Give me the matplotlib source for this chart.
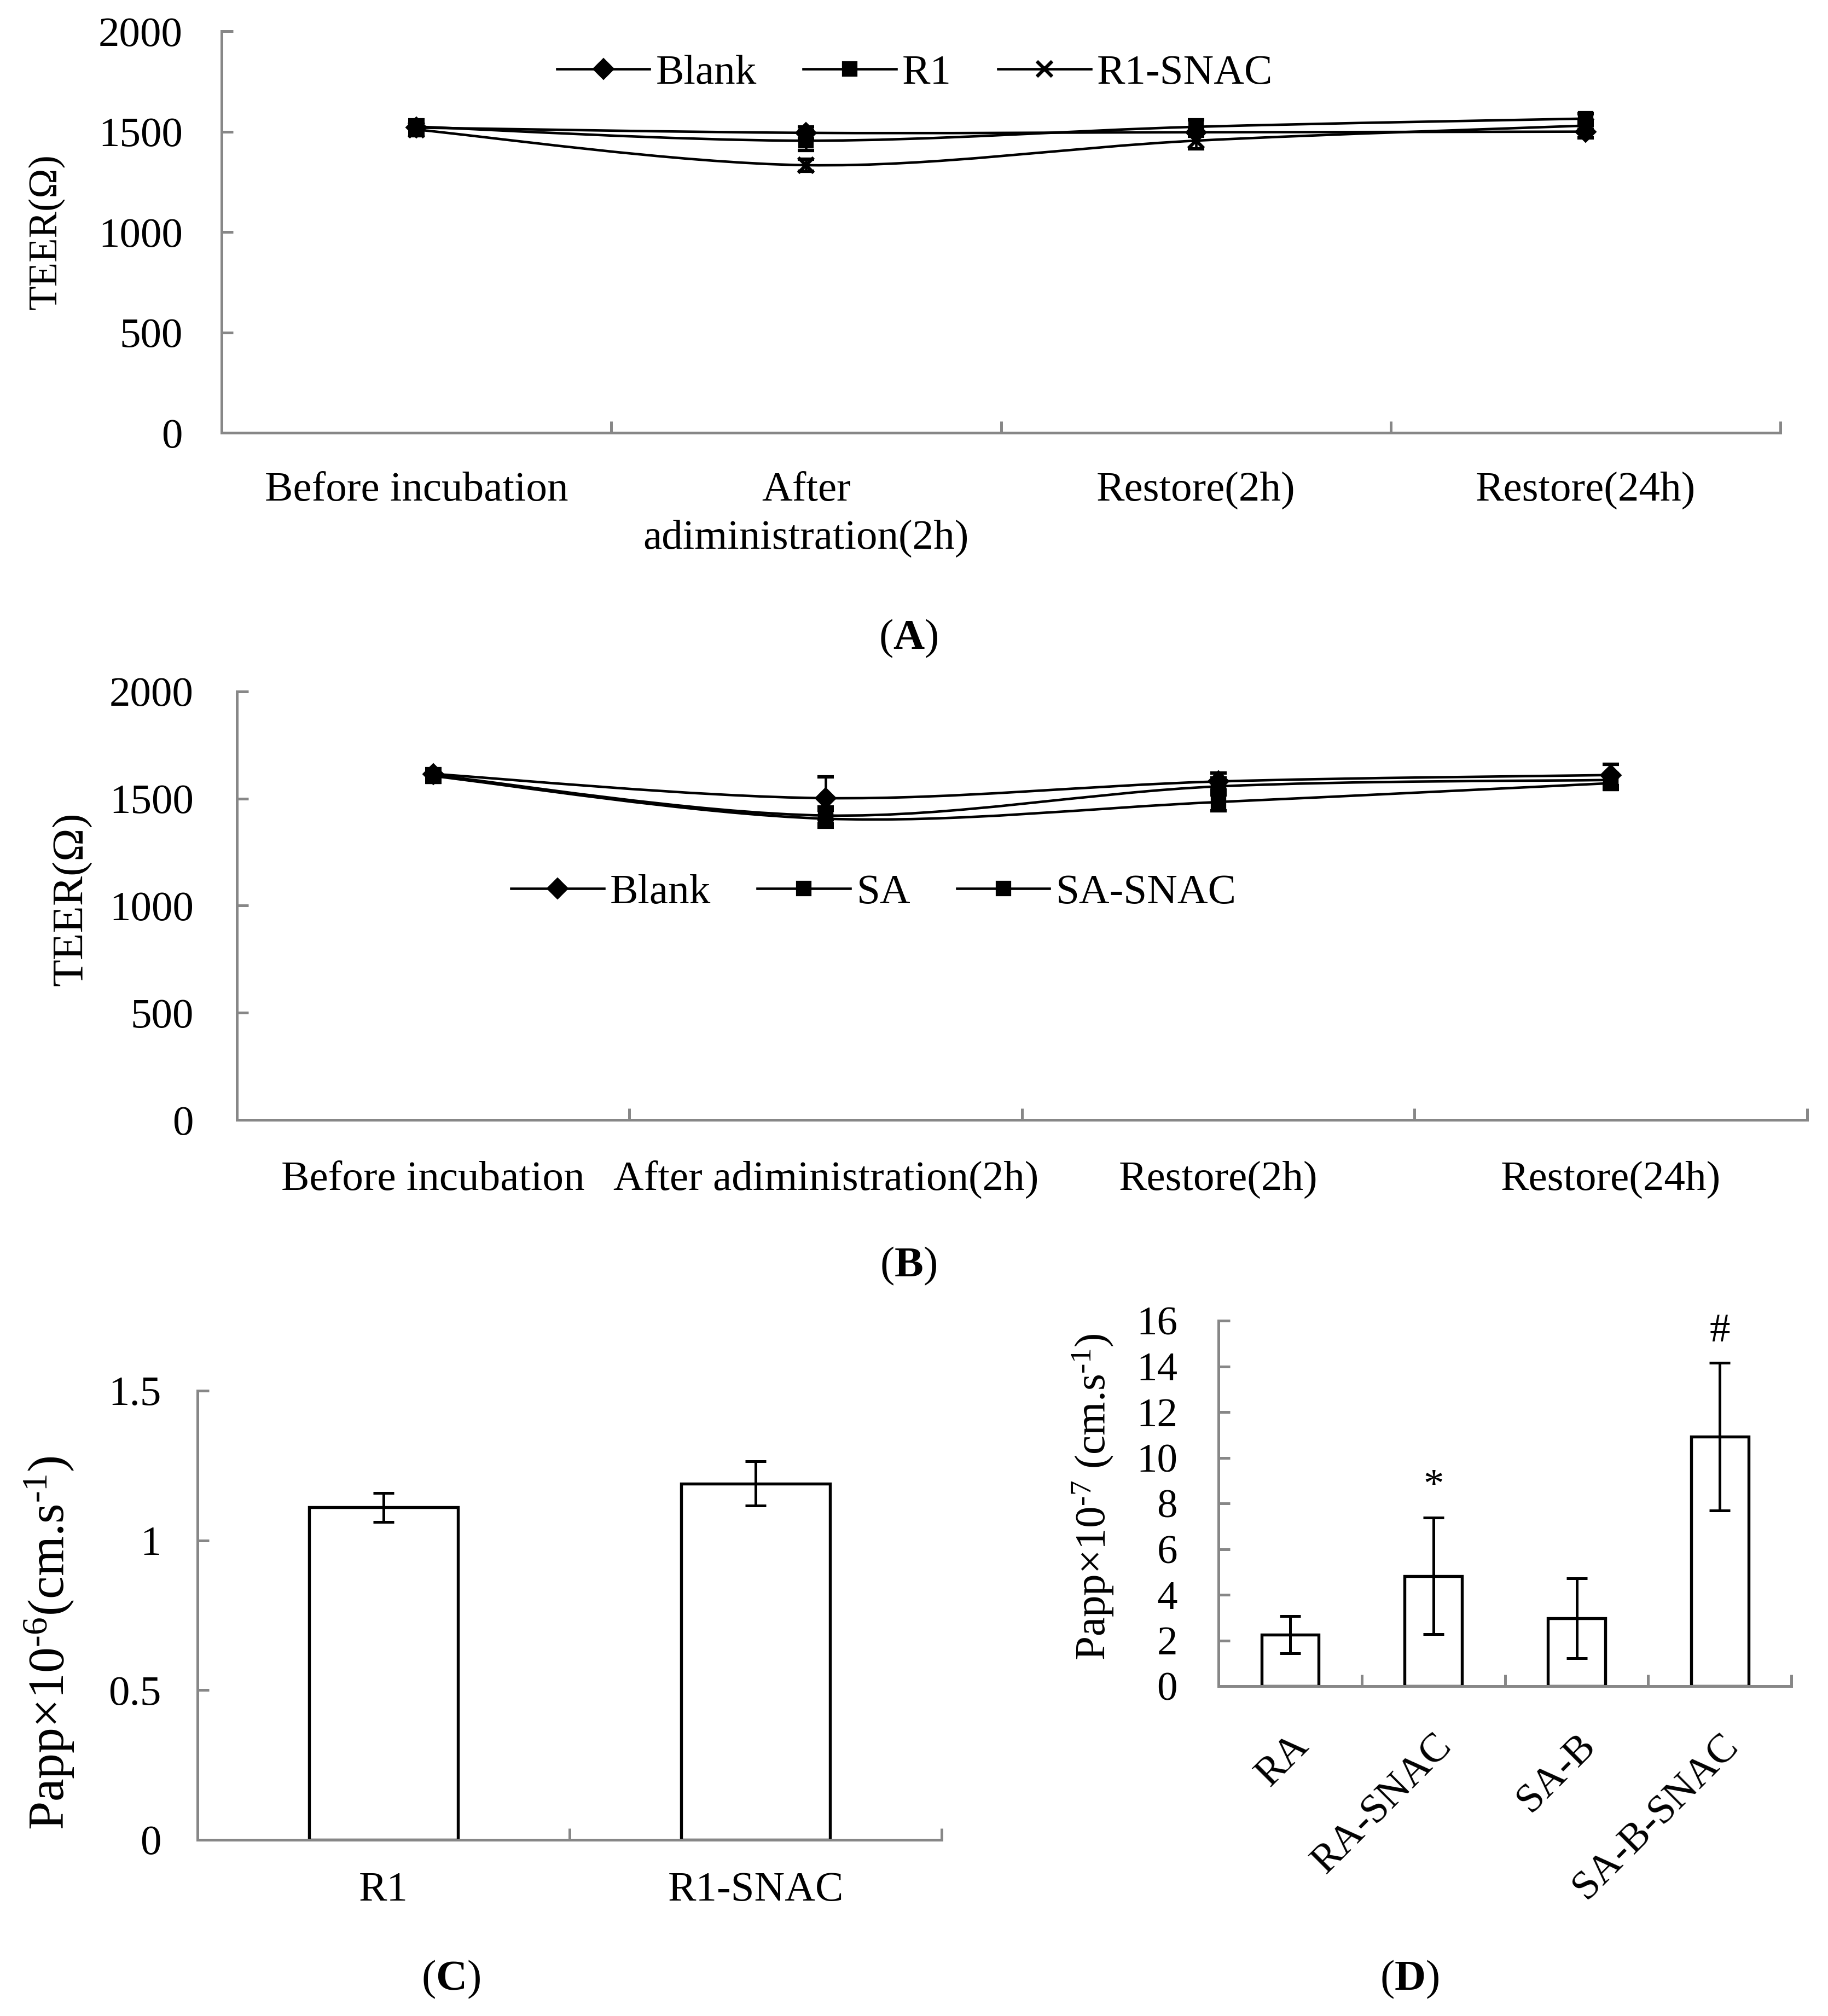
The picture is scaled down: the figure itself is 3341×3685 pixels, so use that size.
import numpy as np
import matplotlib
matplotlib.use('Agg')
import matplotlib.pyplot as plt
from matplotlib.path import Path
from matplotlib.patches import PathPatch
from matplotlib.lines import Line2D

plt.rcParams['font.family'] = ['Liberation Serif', 'DejaVu Serif']
plt.rcParams['mathtext.fontset'] = 'custom'
plt.rcParams['mathtext.rm'] = 'Liberation Serif'
plt.rcParams['mathtext.it'] = 'Liberation Serif:italic'
plt.rcParams['mathtext.bf'] = 'Liberation Serif:bold'

# ---- data ----
stages_a = ['Before incubation', 'After\nadiministration(2h)', 'Restore(2h)', 'Restore(24h)']
stages_b = ['Before incubation', 'After adiministration(2h)', 'Restore(2h)', 'Restore(24h)']

a_names = ['Blank', 'R1', 'R1-SNAC']
a_blank = [1520, 1494, 1497, 1500]
a_blank_err = [40, 30, 20, 30]
a_r1 = [1525, 1455, 1524, 1565]
a_r1_err = [25, 50, 35, 25]
a_r1snac = [1510, 1333, 1455, 1530]
a_r1snac_err = [20, 30, 40, 20]

b_names = ['Blank', 'SA', 'SA-SNAC']
b_blank = [1615, 1502, 1580, 1610]
b_blank_err = [20, 100, 40, 50]
b_sa = [1610, 1421, 1557, 1587]
b_sa_err = [30, 40, 40, 30]
b_sasnac = [1605, 1406, 1484, 1572]
b_sasnac_err = [30, 40, 40, 30]

c_groups = ['R1', 'R1-SNAC']
c_papp = [1.11, 1.19]
c_err = [0.048, 0.074]

d_groups = ['RA', 'RA-SNAC', 'SA-B', 'SA-B-SNAC']
d_papp = [2.25, 4.82, 2.97, 10.93]
d_err = [0.81, 2.55, 1.75, 3.23]
d_marks = ['', '*', '', '#']

GRAY = '#878787'
FS = 18.5


def smooth_path(xs, ys):
    # Excel-like smoothed line (Catmull-Rom as cubic Bezier)
    n = len(xs)
    verts = [(xs[0], ys[0])]
    codes = [Path.MOVETO]
    for i in range(n - 1):
        p0 = i - 1 if i > 0 else i
        p3 = i + 2 if i + 2 < n else i + 1
        c1 = (xs[i] + (xs[i + 1] - xs[p0]) / 6, ys[i] + (ys[i + 1] - ys[p0]) / 6)
        c2 = (xs[i + 1] - (xs[p3] - xs[i]) / 6, ys[i + 1] - (ys[p3] - ys[i]) / 6)
        verts += [c1, c2, (xs[i + 1], ys[i + 1])]
        codes += [Path.CURVE4] * 3
    return Path(verts, codes)


def style_axes(ax, ncat, ypad, xpad, fs=FS):
    for s in ['top', 'right']:
        ax.spines[s].set_visible(False)
    for s in ['left', 'bottom']:
        ax.spines[s].set_color(GRAY)
        ax.spines[s].set_linewidth(1.2)
    ax.set_xlim(-0.5, ncat - 0.5)
    ax.set_xticks(np.arange(ncat))
    ax.set_xticks(np.arange(ncat + 1) - 0.5, minor=True)
    ax.tick_params(axis='x', which='major', length=0, pad=xpad, labelsize=fs)
    ax.tick_params(axis='x', which='minor', direction='in', length=5, width=1.2, color=GRAY)
    ax.tick_params(axis='y', direction='in', length=5, width=1.2, color=GRAY, pad=ypad, labelsize=fs)


def line_panel(ax, series, errs, markers, labels, ypad, xpad):
    x = np.arange(len(labels))
    for ys, es, m in zip(series, errs, markers):
        ax.add_patch(PathPatch(smooth_path(x, ys), fill=False, lw=1.1, ec='black', zorder=2))
        ax.errorbar(x, ys, yerr=es, fmt=m[0], ms=m[1], mfc='black', mec='black', mew=1.5,
                    ecolor='black', elinewidth=1.1, capsize=3.5, capthick=2.2, zorder=3)
    style_axes(ax, len(labels), ypad, xpad)
    ax.set_ylim(0, 2000)
    ax.set_yticks([0, 500, 1000, 1500, 2000])
    ax.set_xticklabels(labels, linespacing=1.35)
    handles = [Line2D([], [], color='black', lw=1.1, marker=m[0], ms=m[1], mfc='black', mew=1.5)
               for m in markers]
    return handles


fig = plt.figure(figsize=(3341 / 300, 3685 / 300), dpi=300)

# ---- panel A ----
axA = fig.add_axes([0.1212, 0.7853, 0.8528, 0.1992])
hA = line_panel(axA, [a_blank, a_r1, a_r1snac], [a_blank_err, a_r1_err, a_r1snac_err],
                [('D', 5.5), ('s', 5.5), ('x', 6.5)], stages_a, 17, 17)
axA.legend(hA, a_names, loc='center', bbox_to_anchor=(0.5005, 0.9636),
           bbox_transform=fig.transFigure, ncol=3, frameon=False, fontsize=FS,
           handlelength=2.2, handletextpad=0.15, columnspacing=1.1)
fig.text(0.0254, 0.885, 'TEER(Ω)', rotation=90, ha='center', va='center', fontsize=17.5)
fig.text(0.497, 0.6833, r'($\mathbf{A}$)', ha='center', va='center', fontsize=19)

# ---- panel B ----
axB = fig.add_axes([0.1296, 0.4445, 0.859, 0.2125])
hB = line_panel(axB, [b_blank, b_sa, b_sasnac], [b_blank_err, b_sa_err, b_sasnac_err],
                [('D', 5.5), ('s', 5.5), ('s', 5.5)], stages_b, 19, 18)
axB.legend(hB, b_names, loc='center', bbox_to_anchor=(0.478, 0.557),
           bbox_transform=fig.transFigure, ncol=3, frameon=False, fontsize=FS,
           handlelength=2.2, handletextpad=0.15, columnspacing=1.1)
fig.text(0.0395, 0.554, 'TEER(Ω)', rotation=90, ha='center', va='center', fontsize=19.5)
fig.text(0.497, 0.372, r'($\mathbf{B}$)', ha='center', va='center', fontsize=19)

# ---- panel C ----
axC = fig.add_axes([0.1081, 0.0874, 0.407, 0.2228])
xc = np.arange(len(c_groups))
axC.bar(xc, c_papp, width=0.4, color='white', edgecolor='black', linewidth=1.3,
        yerr=c_err, capsize=4.5, error_kw=dict(elinewidth=1.2, capthick=1.2, ecolor='black'))
style_axes(axC, len(c_groups), 16, 14)
axC.set_ylim(0, 1.5)
axC.set_yticks([0, 0.5, 1, 1.5])
axC.set_yticklabels(['0', '0.5', '1', '1.5'])
axC.set_xticklabels(c_groups)
fig.text(0.027, 0.185, 'Papp×10$^{\u2010 6}$(cm.s$^{\u20101}$)'.replace('\u2010 ', '\u2010'),
         rotation=90, ha='center', va='center', fontsize=22.5)
fig.text(0.2466, 0.0182, r'($\mathbf{C}$)', ha='center', va='center', fontsize=19)

# ---- panel D ----
axD = fig.add_axes([0.6666, 0.1636, 0.3134, 0.1813])
xd = np.arange(len(d_groups))
axD.bar(xd, d_papp, width=0.4, color='white', edgecolor='black', linewidth=1.3,
        yerr=d_err, capsize=4.5, error_kw=dict(elinewidth=1.2, capthick=1.2, ecolor='black'))
style_axes(axD, len(d_groups), 18, 18, fs=18)
axD.set_ylim(0, 16)
axD.set_yticks(np.arange(0, 17, 2))
axD.set_xticklabels(d_groups, rotation=45, ha='right', rotation_mode='anchor')
for xi, v, e, mk in zip(xd, d_papp, d_err, d_marks):
    if mk:
        axD.text(xi, v + e + 1.35, mk, ha='center', va='center', fontsize=18)
fig.text(0.598, 0.2575, 'Papp×10$^{\u20107}$ (cm.s$^{\u20101}$)', rotation=90,
         ha='center', va='center', fontsize=19)
fig.text(0.771, 0.0182, r'($\mathbf{D}$)', ha='center', va='center', fontsize=19)

fig.savefig('out.png', dpi=300)
